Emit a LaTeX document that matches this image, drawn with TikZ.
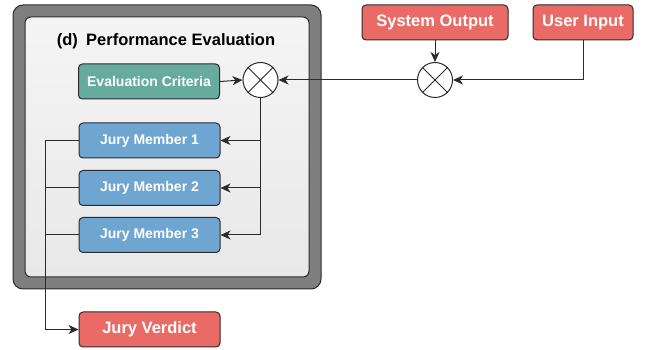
\documentclass[tikz,border=0pt]{standalone}
\usepackage{fontspec}
\setmainfont{Liberation Sans}
\usetikzlibrary{arrows.meta,calc}
\definecolor{redbox}{HTML}{EA6B66}
\definecolor{bluebox}{HTML}{6FA6D1}
\definecolor{greenbox}{HTML}{67AB9F}
\definecolor{framegray}{HTML}{7F7F7F}
\definecolor{ln}{HTML}{2B2B2B}
\begin{document}
\begin{tikzpicture}[x=1pt,y=-1pt,
  box/.style={draw=ln, rounded corners=4pt, line width=1pt, text=white, inner sep=0pt,
    minimum height=35pt},
  smallbox/.style={box, font=\bfseries\fontsize{14}{16}\selectfont, minimum width=141pt},
  bigfont/.style={font=\bfseries\fontsize{16.5}{18}\selectfont},
  mixer/.style={circle, draw=ln, fill=white, line width=1pt, minimum size=35pt, inner sep=0pt},
  conn/.style={draw=ln, line width=1pt},
  arr/.style={conn, -{Stealth[length=10pt,width=9pt,inset=3pt]}}]
\useasboundingbox (0,0) rectangle (649,350);
% frame
\draw[ln, fill=framegray, line width=1pt, rounded corners=10pt] (13,5) rectangle (321,289);
\draw[ln, top color=white!96!black, bottom color=white!91!black, line width=1pt, rounded corners=6pt] (25,17) rectangle (309,277);
\node[bigfont, text=black] (title) at (166,41) {(d)\hspace{0.5em}Performance Evaluation};
% nodes
\node[smallbox, fill=greenbox] (ec) at (149,81.5) {Evaluation Criteria};
\node[smallbox, fill=bluebox] (jm1) at (149.5,140.5) {Jury Member 1};
\node[smallbox, fill=bluebox] (jm2) at (149.5,188) {Jury Member 2};
\node[smallbox, fill=bluebox] (jm3) at (149.5,235) {Jury Member 3};
\node[box, bigfont, fill=redbox, minimum width=141pt] (jv) at (149.5,329.5) {Jury Verdict};
\node[box, bigfont, fill=redbox, minimum width=146pt] (so) at (435,22.5) {System Output};
\node[box, bigfont, fill=redbox, minimum width=100pt] (ui) at (583,22.5) {User Input};
\node[mixer] (m1) at (260.5,80) {};
\node[mixer] (m2) at (435,80) {};
\foreach \m in {m1,m2}{
  \draw[ln, line width=1pt] (\m.45) -- (\m.225) (\m.135) -- (\m.315);
}
% connectors
\draw[arr] (ec.east) -- (m1.west);
\draw[arr] (m2.west) -- (m1.east);
\draw[arr] (so.south) -- (m2.north);
\draw[arr] (ui.south) |- (m2.east);
\coordinate (r3) at (m1.south |- jm3.east);
\draw[conn] (m1.south) -- (r3);
\draw[arr] (r3) -- (jm3.east);
\draw[arr] (m1.south |- jm1.east) -- (jm1.east);
\draw[arr] (m1.south |- jm2.east) -- (jm2.east);
\coordinate (lx) at (45,0);
\draw[arr] (jm1.west) -- (lx |- jm1.west) -- (lx |- jv.west) -- (jv.west);
\draw[conn] (jm2.west) -- (lx |- jm2.west);
\draw[conn] (jm3.west) -- (lx |- jm3.west);
\end{tikzpicture}
\end{document}
